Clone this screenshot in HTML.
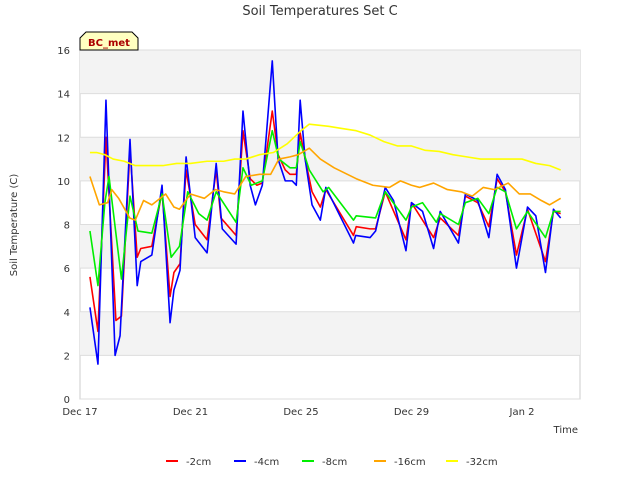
<!DOCTYPE html>
<html><head><meta charset="utf-8"><style>
body{margin:0;background:#fff;font-family:"Liberation Sans","DejaVu Sans",sans-serif}
svg text{font-family:"DejaVu Sans","Liberation Sans",sans-serif}
</style></head><body>
<svg id="c" width="640" height="480" xmlns="http://www.w3.org/2000/svg"></svg>
<script>
const yTicks=[0,2,4,6,8,10,12,14,16];
const xTickDays=[0,4,8,12,16];
const xTickLabels=["Dec 17","Dec 21","Dec 25","Dec 29","Jan 2"];
const seriesNames=["-2cm","-4cm","-8cm","-16cm","-32cm"];
const seriesColors=["#ff0000","#0000ff","#00ee00","#ffa500","#ffff00"];
const d2=[[0.36,5.6],[0.65,3.1],[0.94,12.0],[1.3,3.6],[1.5,3.8],[1.81,11.5],[2.07,6.5],[2.2,6.9],[2.6,7.0],[2.97,9.5],[3.26,4.7],[3.4,5.8],[3.62,6.2],[3.84,10.5],[4.17,8.0],[4.6,7.3],[4.93,10.5],[5.1,8.3],[5.65,7.5],[5.9,12.3],[6.16,10.1],[6.4,9.8],[6.6,9.9],[6.96,13.2],[7.17,11.2],[7.43,10.5],[7.6,10.3],[7.83,10.3],[7.97,12.2],[8.15,11.0],[8.4,9.5],[8.7,8.8],[8.9,9.6],[9.9,7.5],[10.0,7.9],[10.5,7.8],[10.7,7.8],[11.05,9.5],[11.8,7.3],[12.0,9.0],[12.8,7.4],[13.04,8.3],[13.7,7.5],[13.95,9.3],[14.4,9.0],[14.8,7.9],[15.1,10.1],[15.4,9.5],[15.8,6.6],[16.2,8.7],[16.85,6.3],[17.14,8.6],[17.4,8.5]];
const d4=[[0.36,4.2],[0.65,1.6],[0.94,13.7],[1.27,2.0],[1.45,2.9],[1.81,11.9],[2.07,5.2],[2.2,6.3],[2.6,6.6],[2.97,9.8],[3.26,3.5],[3.4,5.0],[3.62,5.9],[3.84,11.1],[4.17,7.4],[4.6,6.7],[4.93,10.8],[5.15,7.8],[5.65,7.1],[5.9,13.2],[6.16,9.8],[6.35,8.9],[6.6,9.8],[6.96,15.5],[7.17,11.0],[7.43,10.0],[7.68,10.0],[7.83,9.8],[7.97,13.7],[8.15,11.0],[8.4,8.9],[8.7,8.2],[8.9,9.7],[9.9,7.15],[9.98,7.5],[10.5,7.4],[10.7,7.7],[11.05,9.7],[11.35,9.1],[11.8,6.8],[12.0,9.0],[12.4,8.6],[12.8,6.9],[13.04,8.6],[13.7,7.15],[13.95,9.4],[14.4,9.1],[14.8,7.4],[15.1,10.3],[15.4,9.6],[15.8,6.0],[16.2,8.8],[16.5,8.4],[16.85,5.8],[17.14,8.7],[17.4,8.3]];
const d8=[[0.36,7.7],[0.65,5.2],[0.9,9.0],[1.05,10.2],[1.5,5.5],[1.81,9.3],[2.1,7.7],[2.6,7.6],[2.97,9.4],[3.3,6.5],[3.6,7.0],[3.9,9.5],[4.3,8.5],[4.6,8.2],[4.93,9.5],[5.65,8.1],[5.9,10.6],[6.2,9.8],[6.6,10.0],[6.96,12.3],[7.2,11.0],[7.6,10.6],[7.83,10.6],[7.97,11.8],[8.3,10.5],[8.8,9.5],[9.0,9.7],[9.9,8.2],[10.0,8.4],[10.7,8.3],[11.05,9.5],[11.8,8.2],[12.0,8.8],[12.4,9.0],[12.9,8.1],[13.04,8.5],[13.7,8.0],[13.95,9.0],[14.4,9.2],[14.8,8.5],[15.1,9.7],[15.4,9.5],[15.8,7.8],[16.2,8.6],[16.85,7.4],[17.14,8.6],[17.4,8.6]];
const d16=[[0.36,10.2],[0.7,8.9],[1.0,9.0],[1.15,9.6],[1.4,9.2],[1.8,8.3],[2.0,8.2],[2.3,9.1],[2.6,8.9],[2.9,9.2],[3.1,9.4],[3.4,8.8],[3.6,8.7],[4.0,9.4],[4.5,9.2],[4.9,9.6],[5.2,9.5],[5.6,9.4],[6.0,10.2],[6.5,10.3],[6.9,10.3],[7.2,11.0],[7.6,11.1],[7.9,11.2],[8.3,11.5],[8.7,11.0],[9.2,10.6],[10.0,10.1],[10.6,9.8],[11.2,9.7],[11.6,10.0],[12.0,9.8],[12.3,9.7],[12.8,9.9],[13.3,9.6],[13.8,9.5],[14.2,9.3],[14.6,9.7],[15.0,9.6],[15.5,9.9],[15.9,9.4],[16.3,9.4],[16.7,9.1],[17.0,8.9],[17.4,9.2]];
const d32=[[0.36,11.3],[0.6,11.3],[0.9,11.2],[1.2,11.0],[1.6,10.9],[2.0,10.7],[2.5,10.7],[3.0,10.7],[3.5,10.8],[4.0,10.8],[4.6,10.9],[5.2,10.9],[5.6,11.0],[6.0,11.0],[6.5,11.2],[7.0,11.3],[7.5,11.7],[8.0,12.3],[8.3,12.6],[9.0,12.5],[9.5,12.4],[10.0,12.3],[10.5,12.1],[11.0,11.8],[11.5,11.6],[12.0,11.6],[12.5,11.4],[13.0,11.35],[13.5,11.2],[14.0,11.1],[14.5,11.0],[15.0,11.0],[15.5,11.0],[16.0,11.0],[16.5,10.8],[17.0,10.7],[17.4,10.5]];
const allData=[d2,d4,d8,d16,d32];
const L=80,R=580,T=50,B=399;
const X=d=>L+d*(R-L)/18.1, Y=v=>B-v*(B-T)/16;
const svg=document.getElementById('c');const NS='http://www.w3.org/2000/svg';
function mk(t,a,p){const e=document.createElementNS(NS,t);for(const k in a)e.setAttribute(k,a[k]);(p||svg).appendChild(e);return e;}
const bg=mk('rect',{x:L,y:T,width:R-L,height:B-T,fill:'#fff',stroke:'#ccc'});

for(let i=0;i<yTicks.length-1;i+=2){const b=mk('rect',{x:L,y:Y(yTicks[i+2]||16),width:R-L,height:Y(yTicks[i+1])-Y(yTicks[i+2]||16),fill:'#f3f3f3'});}
yTicks.forEach(v=>{const g=mk('line',{x1:L,x2:R,y1:Y(v),y2:Y(v),stroke:'#ddd'});
const t=mk('text',{x:L-10,y:Y(v)+4,'text-anchor':'end','font-size':10,fill:'#333'});t.textContent=v;});
xTickDays.forEach((d,i)=>{const t=mk('text',{x:X(d),y:B+16,'text-anchor':'middle','font-size':10,fill:'#333'});t.textContent=xTickLabels[i];});
allData.forEach((s,i)=>{const p=mk('polyline',{points:s.map(q=>X(q[0])+','+Y(q[1])).join(' '),fill:'none',stroke:seriesColors[i],'stroke-width':1.6,'stroke-linejoin':'round'});});
const ti=mk('text',{x:320,y:15,'text-anchor':'middle','font-size':13,fill:'#333'});ti.textContent='Soil Temperatures Set C';
const xt=mk('text',{x:578,y:433,'text-anchor':'end','font-size':10,fill:'#333'});xt.textContent='Time';
const yt=mk('text',{x:17,y:225,'text-anchor':'middle','font-size':10,fill:'#333',transform:'rotate(-90 17 225)'});yt.textContent='Soil Temperature (C)';
const bx=mk('path',{d:'M80,50 L80,38 L86,32 L132,32 L138,38 L138,50 Z',fill:'#ffffc0',stroke:'#000'});
const bt=mk('text',{x:109,y:46,'text-anchor':'middle','font-size':10,'font-weight':'bold',fill:'#aa0000'});bt.textContent='BC_met';
const lx=[166,234,302,374,446];
seriesNames.forEach((n,i)=>{const g=mk('g',{});
mk('line',{x1:lx[i],x2:lx[i]+12,y1:461,y2:461,stroke:seriesColors[i],'stroke-width':2},g);
const t=mk('text',{x:lx[i]+20,y:465,'font-size':10,fill:'#333'},g);t.textContent=n;});
</script>
</body></html>
